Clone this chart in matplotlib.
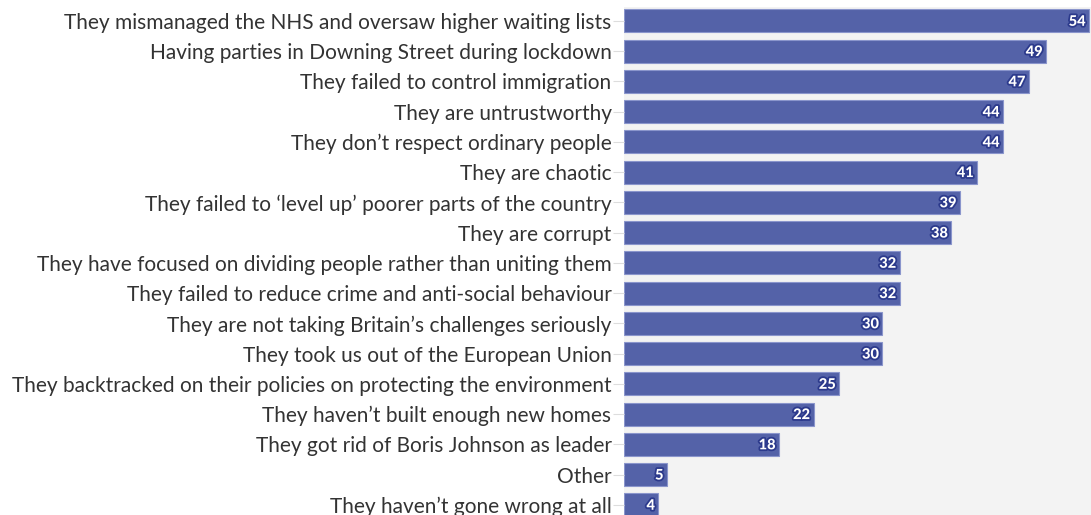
import matplotlib
matplotlib.use("Agg")
import matplotlib.pyplot as plt
import matplotlib.patheffects as pe

# reasons the Conservatives went wrong (% of respondents)
reasons = [
    "They mismanaged the NHS and oversaw higher waiting lists",
    "Having parties in Downing Street during lockdown",
    "They failed to control immigration",
    "They are untrustworthy",
    "They don\u2019t respect ordinary people",
    "They are chaotic",
    "They failed to \u2018level up\u2019 poorer parts of the country",
    "They are corrupt",
    "They have focused on dividing people rather than uniting them",
    "They failed to reduce crime and anti-social behaviour",
    "They are not taking Britain\u2019s challenges seriously",
    "They took us out of the European Union",
    "They backtracked on their policies on protecting the environment",
    "They haven\u2019t built enough new homes",
    "They got rid of Boris Johnson as leader",
    "Other",
    "They haven\u2019t gone wrong at all",
]
values = [54, 49, 47, 44, 44, 41, 39, 38, 32, 32, 30, 30, 25, 22, 18, 5, 4]

bar_color = "#5462a8"
edge_color = "#8a95cc"
label_outline = "#2c3a8c"

plt.rcParams["font.family"] = ["Lato", "DejaVu Sans"]

fig = plt.figure(figsize=(10.91, 5.15), dpi=100)
# axes runs off the bottom of the figure, like the cropped original
ax = fig.add_axes([624 / 1091, -5 / 515, 467 / 1091, 513 / 515])
ax.set_facecolor("#f3f3f3")

pos = list(range(len(values)))
ax.barh(pos, values, height=0.76, color=bar_color, edgecolor=edge_color, linewidth=0.8)

for y, v in zip(pos, values):
    ax.text(v - 0.4, y + 0.03, str(v), ha="right", va="center", color="white",
            fontsize=10.5, fontweight="black",
            path_effects=[pe.withStroke(linewidth=2.6, foreground=label_outline)])

ax.set_xlim(0, 54.2)
ax.set_ylim(16.5, -0.46)
ax.set_yticks(pos)
ax.set_yticklabels(reasons, fontsize=15, color="#333333")
ax.tick_params(axis="y", length=8, width=0.8, color="#dddddd", pad=1)
ax.set_xticks([])
for s in ax.spines.values():
    s.set_visible(False)

fig.savefig("out.png", dpi=100)
